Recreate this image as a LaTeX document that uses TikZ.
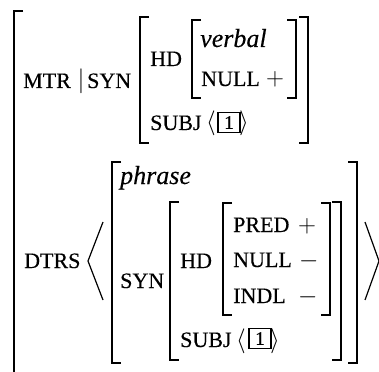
\documentclass[tikz,border=0pt]{standalone}
\usepackage{fontspec}
\setmainfont{Liberation Serif}[FakeBold=0.3]
\begin{document}
\begin{tikzpicture}[x=1pt,y=-1pt,
  ft/.style={font=\fontsize{22}{26}\selectfont, inner sep=0pt, anchor=base west},
  ty/.style={font=\fontsize{26}{30}\selectfont\itshape, inner sep=0pt, anchor=base west},
  val/.style={font=\fontsize{26}{30}\selectfont, inner sep=0pt, anchor=base west},
  tag/.style={draw, line width=1.9pt, inner sep=0pt, minimum width=22pt, minimum height=20pt, font=\fontsize{19}{21}\selectfont},
  brk/.style={line width=1.7pt},
  bigang/.style={line width=1.2pt}]
\useasboundingbox (0,0) rectangle (379,371);
% outer bracket
\draw[brk] (23,11) -- (14,11) -- (14,380);
% MTR | SYN
\node[ft] (mtr) at (23,88) {MTR};
\node[val, anchor=base] (bar) at (81,88) {$|$};
\node[ft] (syn1) at (87,88) {SYN};
% SYN bracket (top)
\draw[brk] (149,17) -- (140,17) -- (140,143) -- (149,143);
\draw[brk] (299,17) -- (308,17) -- (308,143) -- (299,143);
\node[ft] (hd1) at (150,66) {HD};
% HD bracket (top)
\draw[brk] (201,20) -- (192,20) -- (192,98) -- (201,98);
\draw[brk] (287,20) -- (296,20) -- (296,98) -- (287,98);
\node[ty] (verbal) at (200,47) {verbal};
\node[ft] (null1) at (201,86) {NULL};
\node[val] (plus1) at (266,86) {$+$};
\node[ft] (subj1) at (150,130) {SUBJ};
\node[val] (la1) at (206,130) {$\langle$};
\node[tag] (t1) at (229,122.5) {1};
\node[val] (ra1) at (239,130) {$\rangle$};
% DTRS
\node[ft] (dtrs) at (24,268) {DTRS};
\draw[bigang] (103,222) -- (88,261) -- (103,300);
\draw[bigang] (365,222) -- (379,261) -- (365,300);
% phrase bracket
\draw[brk] (121,162) -- (112,162) -- (112,363) -- (121,363);
\draw[brk] (348,162) -- (357,162) -- (357,363) -- (348,363);
\node[ty] (phrase) at (120,184) {phrase};
\node[ft] (syn2) at (120,288) {SYN};
% SYN bracket (bottom)
\draw[brk] (179,202) -- (170,202) -- (170,360) -- (179,360);
\draw[brk] (332,202) -- (341,202) -- (341,360) -- (332,360);
\node[ft] (hd2) at (180,268) {HD};
% HD bracket (bottom)
\draw[brk] (232,203) -- (223,203) -- (223,315) -- (232,315);
\draw[brk] (321,203) -- (330,203) -- (330,315) -- (321,315);
\node[ft] (pred) at (233,232) {PRED};
\node[val] (plus2) at (298,232) {$+$};
\node[ft] (null2) at (233,267) {NULL};
\node[val] (minus1) at (299,267) {$-$};
\node[ft] (indl) at (233,303) {INDL};
\node[val] (minus2) at (298,303) {$-$};
\node[ft] (subj2) at (180,347) {SUBJ};
\node[val] (la2) at (236,347) {$\langle$};
\node[tag] (t2) at (260,338.5) {1};
\node[val] (ra2) at (270,347) {$\rangle$};
\end{tikzpicture}
\end{document}
